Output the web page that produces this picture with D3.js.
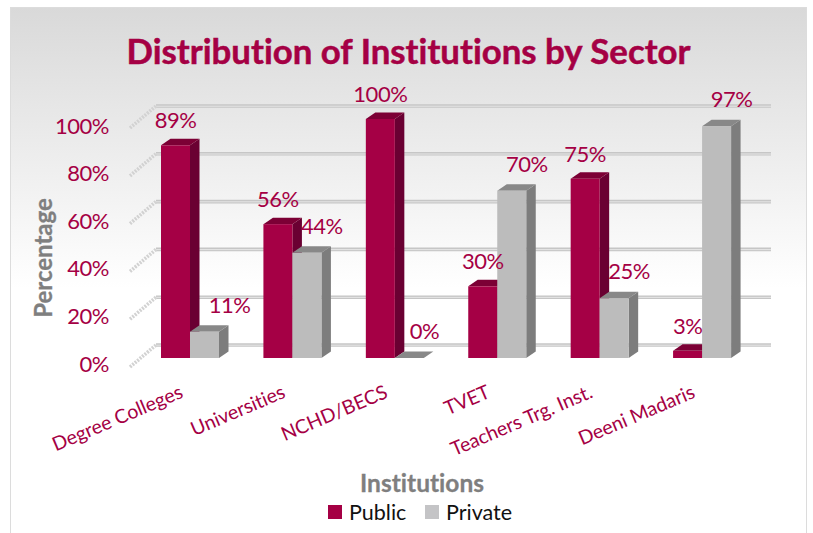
<!DOCTYPE html>
<html>
<head>
<meta charset="utf-8">
<script src="https://cdn.jsdelivr.net/npm/d3@7"></script>
<style>
  html, body { margin: 0; padding: 0; background: #fff; }
  svg { display: block; font-family: Lato, Carlito, sans-serif; font-variant-ligatures: none; }
</style>
</head>
<body>
<svg width="813" height="533"></svg>
<script>
const categories = ["Degree Colleges", "Universities", "NCHD/BECS", "TVET", "Teachers Trg. Inst.", "Deeni Madaris"];
const seriesNames = ["Public", "Private"];
const publicValues = [89, 56, 100, 30, 75, 3];
const privateValues = [11, 44, 0, 70, 25, 97];
const tickValues = [0, 20, 40, 60, 80, 100];

const crimson = "#a50044";
const faces = {
  Public: { front: "#a50044", side: "#6a0030", top: "#7b0035" },
  Private: { front: "#bcbcbc", side: "#7d7d7d", top: "#888888" }
};

const svg = d3.select("svg");

// Background panel with the grey to white fade
const defs = svg.append("defs");
const grad = defs.append("linearGradient")
  .attr("id", "panelFade").attr("x1", 0).attr("x2", 0).attr("y1", 0).attr("y2", 1);
grad.append("stop").attr("offset", "0%").attr("stop-color", "#d9d9d9");
grad.append("stop").attr("offset", "52%").attr("stop-color", "#ffffff");
grad.append("stop").attr("offset", "100%").attr("stop-color", "#ffffff");

defs.append("filter").attr("id", "soft")
  .append("feGaussianBlur").attr("stdDeviation", 0.5);

svg.append("rect")
  .attr("x", 10.5).attr("y", 7.5)
  .attr("width", 796).attr("height", 540)
  .attr("fill", "url(#panelFade)")
  .attr("stroke", "#dcdcdc");

const x = d3.scaleBand()
  .domain(categories)
  .range([136, 750.5])
  .paddingInner(0)
  .paddingOuter(0);

const series = d3.scaleBand()
  .domain(seriesNames)
  .range([25, 83]);

const y = d3.scaleLinear().domain([0, 100]).range([358, 119]);

const depth = { dx: 9.5, dy: 6.5 };    // depth of one bar
const wall = { dx: 26, dy: 22 };       // floor lines from the axis to the back wall
const gridLeft = 156, gridRight = 771;

// Back wall gridlines
const grid = svg.append("g").attr("filter", "url(#soft)");
tickValues.forEach(t => {
  const gy = y(t) - 13;
  grid.append("line")
    .attr("x1", gridLeft).attr("x2", gridRight)
    .attr("y1", gy).attr("y2", gy)
    .attr("stroke", "#c6c6c6").attr("stroke-width", 3.6);
  grid.append("line")
    .attr("x1", gridLeft).attr("x2", gridRight)
    .attr("y1", gy + 0.2).attr("y2", gy + 0.2)
    .attr("stroke", "#e6e6e6").attr("stroke-width", 1);
  grid.append("line")
    .attr("x1", gridLeft - wall.dx).attr("x2", gridLeft)
    .attr("y1", gy + wall.dy).attr("y2", gy)
    .attr("stroke", "#d2d2d2").attr("stroke-width", 3.6)
    .attr("stroke-dasharray", "2 1.2");
});

// Y axis labels
const yAxis = d3.axisLeft(y.copy().range([364, 126]))
  .tickValues(tickValues)
  .tickSize(0)
  .tickFormat(d => d + "%");
svg.append("g")
  .attr("transform", "translate(112,0)")
  .call(yAxis)
  .call(g => g.select(".domain").remove())
  .selectAll("text")
  .attr("fill", crimson)
  .attr("font-size", 22)
  .attr("letter-spacing", -0.5)
  .attr("font-family", "Lato, sans-serif");

// Flatten to one row per bar so each can be drawn as 3 faces
const rows = [];
categories.forEach((c, i) => {
  rows.push({ cat: c, name: "Public", value: publicValues[i] });
  rows.push({ cat: c, name: "Private", value: privateValues[i] });
});

const bars = svg.append("g").attr("filter", "url(#soft)")
  .selectAll("g").data(rows).enter().append("g");

bars.append("path") // side
  .attr("fill", d => faces[d.name].side)
  .attr("d", d => {
    const x1 = x(d.cat) + series(d.name) + series.bandwidth();
    return `M${x1},${y(0)}L${x1 + depth.dx},${y(0) - depth.dy}L${x1 + depth.dx},${y(d.value) - depth.dy}L${x1},${y(d.value)}Z`;
  });

bars.append("path") // top
  .attr("fill", d => faces[d.name].top)
  .attr("d", d => {
    const x0 = x(d.cat) + series(d.name);
    const x1 = x0 + series.bandwidth();
    const t = y(d.value);
    return `M${x0},${t}L${x0 + depth.dx},${t - depth.dy}L${x1 + depth.dx},${t - depth.dy}L${x1},${t}Z`;
  });

bars.append("rect") // front
  .attr("x", d => x(d.cat) + series(d.name))
  .attr("y", d => y(d.value))
  .attr("width", series.bandwidth())
  .attr("height", d => y(0) - y(d.value))
  .attr("fill", d => faces[d.name].front);

// Value labels
svg.append("g").selectAll("text").data(rows).enter().append("text")
  .attr("x", d => {
    const cx = x(d.cat) + series(d.name) + series.bandwidth() / 2;
    if (d.name === "Public") return cx;
    return cx + (d.cat === "Degree Colleges" ? 25 : 15);
  })
  .attr("y", d => y(d.value) - (d.name === "Public" ? 17 : 19))
  .attr("text-anchor", "middle")
  .attr("fill", crimson)
  .attr("font-size", 22)
  .attr("letter-spacing", -0.5)
  .text(d => d.value + "%");

// Category labels
svg.append("g").selectAll("text").data(categories).enter().append("text")
  .attr("transform", d => `translate(${x(d) + x.bandwidth() / 2 - 3},397) rotate(-23)`)
  .attr("text-anchor", "end")
  .attr("fill", crimson)
  .attr("font-size", 19.5)
  .text(d => d);

// Titles
svg.append("text")
  .attr("x", 408.5).attr("y", 64)
  .attr("text-anchor", "middle")
  .attr("fill", crimson)
  .attr("stroke", crimson)
  .attr("stroke-width", 0.5)
  .attr("font-size", 34.8)
  .attr("font-weight", 700)
  .text("Distribution of Institutions by Sector");

svg.append("text")
  .attr("transform", "translate(51.5,258) rotate(-90)")
  .attr("text-anchor", "middle")
  .attr("fill", "#7f7f7f")
  .attr("stroke", "#7f7f7f")
  .attr("stroke-width", 0.3)
  .attr("font-size", 24)
  .attr("font-weight", 700)
  .text("Percentage");

svg.append("text")
  .attr("x", 422).attr("y", 492)
  .attr("text-anchor", "middle")
  .attr("fill", "#7f7f7f")
  .attr("stroke", "#7f7f7f")
  .attr("stroke-width", 0.3)
  .attr("font-size", 24.5)
  .attr("font-weight", 700)
  .text("Institutions");

// Legend
const legendX = [328, 425];
const legend = svg.append("g").selectAll("g").data(seriesNames).enter().append("g")
  .attr("transform", (d, i) => `translate(${legendX[i]},505)`);
legend.append("rect")
  .attr("width", 14).attr("height", 14)
  .attr("fill", d => d === "Public" ? crimson : "#c4c4c6");
legend.append("text")
  .attr("x", 21).attr("y", 14.5)
  .attr("fill", "#111")
  .attr("font-size", 21.5)
  .text(d => d);
</script>
</body>
</html>
